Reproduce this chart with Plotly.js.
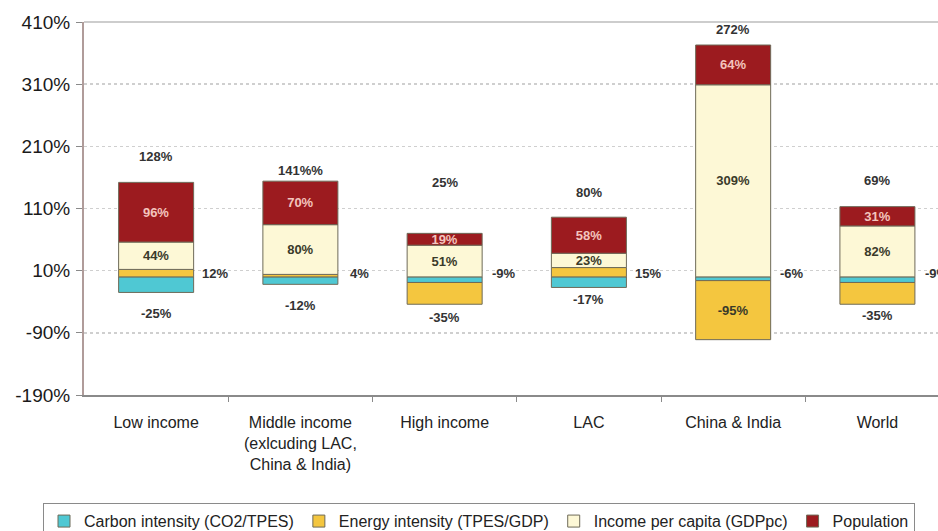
<!DOCTYPE html>
<html>
<head>
<meta charset="utf-8">
<script src="https://cdn.plot.ly/plotly-3.0.1.min.js"></script>
<style>
  html, body { margin: 0; padding: 0; background: #ffffff; }
  #chart { width: 938px; height: 531px; }
</style>
</head>
<body>
<div id="chart"></div>
<script>
// ---- data ----
const categories = [
  'Low income',
  'Middle income<br>(exlcuding LAC,<br>China & India)',
  'High income',
  'LAC',
  'China & India',
  'World'
];
const carbonIntensity = [-25, -12, -9, -17, -6, -9];   // CO2/TPES
const energyIntensity = [12, 4, -35, 15, -95, -35];    // TPES/GDP
const incomePerCapita = [44, 80, 51, 23, 309, 82];     // GDPpc
const population      = [96, 70, 19, 58, 64, 31];
const totalLabels = ['128%', '141%%', '25%', '80%', '272%', '69%'];
const sideLabels  = ['12%', '4%', '-9%', '15%', '-6%', '-9%'];
const lowLabels   = ['-25%', '-12%', '-35%', '-17%', '', '-35%'];
const yTicks = [-190, -90, 10, 110, 210, 310, 410];

// ---- styling ----
const FONT = 'Liberation Sans, Arial, sans-serif';
const outline = { color: '#6e6a58', width: 1 };
const barWidth = 0.52;
const totalLift = [26, 11, 51, 25, 16, 26];   // px above bar top
const lowDrop   = [21, 21, 13, 12, 0, 11];    // px below bar bottom

const idx = categories.map((_, i) => i);
const pct = v => v + '%';

const traces = [
  {
    type: 'bar', name: 'Carbon intensity (CO2/TPES)', x: idx, y: carbonIntensity,
    width: barWidth, marker: { color: '#4fc8d3', line: outline }, hoverinfo: 'skip'
  },
  {
    type: 'bar', name: 'Energy intensity (TPES/GDP)', x: idx, y: energyIntensity,
    width: barWidth, marker: { color: '#f4c63f', line: outline },
    text: energyIntensity.map(v => Math.abs(v) >= 50 ? pct(v) : ''),
    textposition: 'inside', insidetextanchor: 'middle', textangle: 0, constraintext: 'none',
    textfont: { family: FONT, size: 13, color: '#3a3a2a', weight: 'bold' }, hoverinfo: 'skip'
  },
  {
    type: 'bar', name: 'Income per capita (GDPpc)', x: idx, y: incomePerCapita,
    width: barWidth, marker: { color: '#fdf8d6', line: outline },
    text: incomePerCapita.map(pct),
    textposition: 'inside', insidetextanchor: 'middle', textangle: 0, constraintext: 'none',
    textfont: { family: FONT, size: 13, color: '#3a3a2a', weight: 'bold' }, hoverinfo: 'skip'
  },
  {
    type: 'bar', name: 'Population', x: idx, y: population,
    width: barWidth, marker: { color: '#9c1b1f', line: outline },
    text: population.map(pct),
    textposition: 'inside', insidetextanchor: 'middle', textangle: 0, constraintext: 'none',
    textfont: { family: FONT, size: 13, color: '#f3c4bd', weight: 'bold' }, hoverinfo: 'skip'
  }
];

// stacked extents computed from the series
const series = [carbonIntensity, energyIntensity, incomePerCapita, population];
const tops = idx.map(i => series.reduce((s, a) => s + Math.max(a[i], 0), 0));
const bottoms = idx.map(i => series.reduce((s, a) => s + Math.min(a[i], 0), 0));

const annFont = { family: FONT, size: 13, color: '#333333', weight: 'bold' };
const annotations = [];
idx.forEach(i => {
  annotations.push({
    x: i, y: tops[i], xref: 'x', yref: 'y', text: totalLabels[i], showarrow: false,
    yanchor: 'middle', yshift: totalLift[i], font: annFont
  });
  annotations.push({
    x: i + 0.41, y: 6, xref: 'x', yref: 'y', text: sideLabels[i], showarrow: false,
    xanchor: 'center', yanchor: 'middle', font: annFont
  });
  if (lowLabels[i]) {
    annotations.push({
      x: i, y: bottoms[i], xref: 'x', yref: 'y', text: lowLabels[i], showarrow: false,
      yanchor: 'middle', yshift: -lowDrop[i], font: annFont
    });
  }
});

const layout = {
  width: 938, height: 531,
  margin: { l: 84, r: 0, t: 22, b: 136, pad: 0, autoexpand: false },
  paper_bgcolor: '#ffffff', plot_bgcolor: '#ffffff',
  barmode: 'relative',
  showlegend: true,
  font: { family: FONT, color: '#222222' },
  xaxis: {
    type: 'linear', range: [-0.5, 5.42],
    tickmode: 'array', tickvals: idx, ticktext: categories,
    showgrid: false, zeroline: false,
    showline: true, linecolor: '#8a8a8a', linewidth: 2,
    ticks: '', tickfont: { family: FONT, size: 16, color: '#222222' },
    ticklabelstandoff: 12,
    minor: { tickmode: 'array', tickvals: idx.slice(0, 5).map(i => i + 0.5),
             ticks: 'outside', ticklen: 5, tickcolor: '#8a8a8a', tickwidth: 1, showgrid: false }
  },
  yaxis: {
    range: [-190, 410], tickmode: 'array', tickvals: yTicks, ticktext: yTicks.map(pct),
    showgrid: true, gridcolor: '#cfcfcf', griddash: 'dot', gridwidth: 1.5,
    zeroline: false,
    showline: true, linecolor: '#b09c9a', linewidth: 2,
    ticks: 'outside', ticklen: 6, tickcolor: '#8a8a8a',
    ticklabelstandoff: 2,
    tickfont: { family: FONT, size: 19, color: '#1a1a1a' }
  },
  shapes: [
    { type: 'line', xref: 'paper', yref: 'paper', x0: 0, x1: 1, y0: 1, y1: 1,
      line: { color: '#bdbdbd', width: 1.5 } }
  ],
  legend: {
    orientation: 'h', x: -0.048, xanchor: 'left', y: -0.29, yanchor: 'top',
    bordercolor: '#8a8a8a', borderwidth: 1, bgcolor: '#ffffff',
    font: { family: FONT, size: 16, color: '#222222' },
    itemwidth: 30, traceorder: 'normal'
  },
  annotations: annotations
};

Plotly.newPlot('chart', traces, layout, { displayModeBar: false, staticPlot: true });
</script>
</body>
</html>
